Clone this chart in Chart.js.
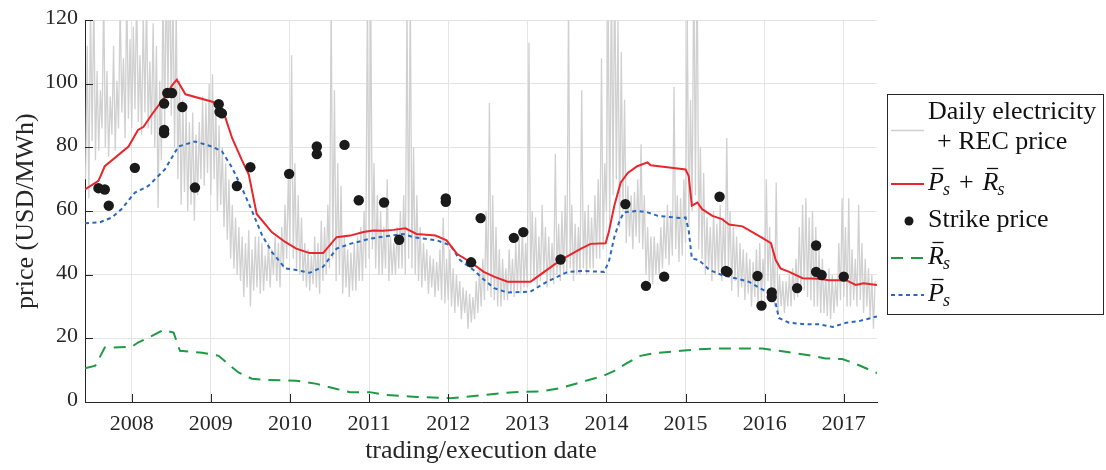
<!DOCTYPE html>
<html>
<head>
<meta charset="utf-8">
<title>Electricity + REC price and strike prices</title>
<script src="https://cdn.jsdelivr.net/npm/chart.js@4.4.1/dist/chart.umd.min.js"></script>
<style>
  html, body { margin: 0; padding: 0; background: #ffffff; }
  #wrap { width: 1106px; height: 470px; }
</style>
</head>
<body>
<div id="wrap"><canvas id="chart" width="1106" height="470"></canvas></div>
<script>
// ---- data ---------------------------------------------------------------

// Year ticks along the trading/execution date axis
const yearTicks = [2008, 2009, 2010, 2011, 2012, 2013, 2014, 2015, 2016, 2017];

// Electricity + REC price (USD/MWh), four readings per month from June 2007 to May 2017
const priceStartYear = 2007.417;
const pricesPerYear = 48;
const elecRecPrice = [
  // 2007 Jun-Dec
  70, 112, 64, 125,   82, 130, 76, 104,   79, 98, 86, 128,   80, 104, 77, 96,
  84, 112, 79, 101,   86, 126, 91, 108,   83, 130, 89, 114,
  // 2008
  86, 118, 92, 130,   88, 109, 84, 122,   91, 127, 86, 107,   84, 119, 80, 112,
  61, 101, 76, 132,   86, 136, 96, 140,   90, 131, 80, 124,   70, 101, 62, 95,
  66, 92, 60, 88,     62, 91, 57, 84,     65, 88, 70, 96,     68, 94, 72, 100,
  // 2009
  65, 103, 70, 94,    60, 87, 62, 80,     55, 75, 51, 70,     45, 62, 42, 58,
  40, 55, 38, 52,     33, 50, 36, 54,     30, 48, 35, 52,     36, 52, 34, 50,
  35, 46, 38, 50,     36, 48, 40, 52,     38, 50, 36, 55,     42, 62, 45, 70,
  // 2010
  50, 109, 45, 75,    42, 65, 40, 58,     38, 50, 36, 48,     35, 46, 37, 52,
  36, 50, 34, 57,     38, 55, 40, 62,     42, 125, 45, 98,    38, 75, 40, 68,
  34, 52, 36, 48,     33, 47, 35, 50,     35, 52, 38, 55,     38, 60, 42, 130,
  // 2011
  45, 128, 48, 75,    42, 65, 40, 60,     40, 55, 42, 70,     38, 52, 40, 50,
  40, 55, 42, 60,     42, 65, 40, 125,    45, 130, 42, 80,    40, 65, 38, 55,
  36, 50, 38, 48,     34, 46, 36, 45,     33, 44, 35, 48,     32, 58, 31, 45,
  // 2012
  32, 48, 30, 42,     28, 40, 30, 38,     26, 36, 28, 35,     23, 34, 25, 33,
  26, 38, 28, 42,     30, 45, 32, 60,     35, 94, 33, 65,     32, 55, 30, 48,
  30, 45, 32, 42,     32, 48, 34, 45,     33, 50, 35, 52,     34, 55, 36, 50,
  // 2013
  36, 113, 38, 60,    38, 58, 36, 52,     38, 62, 40, 55,     36, 52, 38, 50,
  37, 78, 40, 56,     38, 60, 40, 65,     40, 125, 42, 62,    38, 56, 40, 55,
  40, 98, 42, 60,     40, 62, 42, 58,     42, 65, 45, 70,     45, 108, 48, 75,
  // 2014
  60, 130, 55, 135,   65, 140, 70, 120,   55, 110, 60, 95,    50, 68, 52, 65,
  48, 66, 52, 70,     50, 81, 48, 65,     40, 55, 38, 52,     37, 52, 40, 50,
  40, 55, 42, 58,     45, 62, 43, 60,     46, 99, 48, 65,     44, 64, 46, 70,
  // 2015
  50, 125, 55, 95,    60, 140, 65, 145,   48, 80, 45, 72,     40, 58, 42, 55,
  38, 60, 40, 56,     40, 62, 38, 58,     40, 83, 42, 60,     35, 55, 38, 52,
  33, 50, 36, 48,     32, 47, 34, 45,     30, 44, 33, 48,     30, 50, 32, 45,
  // 2016
  35, 70, 38, 55,     32, 48, 30, 69,     28, 40, 30, 38,     28, 38, 30, 40,
  30, 42, 32, 45,     33, 55, 35, 62,     35, 64, 33, 58,     32, 60, 30, 55,
  30, 48, 28, 45,     28, 40, 27, 42,     26, 40, 28, 38,     30, 50, 32, 64,
  // 2017 Jan-May
  33, 55, 30, 64,     30, 48, 32, 45,     30, 62, 32, 50,     28, 45, 30, 42,
  26, 40, 23, 38
];

// Mean electricity + REC price, P̄s + R̄s
const sumYears = [2007.41, 2007.58, 2007.66, 2007.96, 2008.08, 2008.15, 2008.25, 2008.42, 2008.51, 2008.57,
  2008.68, 2009.03, 2009.16, 2009.27, 2009.39, 2009.48, 2009.58, 2009.77, 2009.94, 2010.08,
  2010.25, 2010.42, 2010.59, 2010.76, 2010.93, 2011.05, 2011.18, 2011.31, 2011.46, 2011.60,
  2011.84, 2011.98, 2012.11, 2012.28, 2012.45, 2012.58, 2012.75, 2013.04, 2013.13, 2013.42,
  2013.68, 2013.80, 2013.99, 2014.03, 2014.10, 2014.18, 2014.27, 2014.39, 2014.52, 2014.56,
  2014.77, 2015.00, 2015.04, 2015.08, 2015.15, 2015.21, 2015.34, 2015.46, 2015.55, 2015.72,
  2015.97, 2016.08, 2016.14, 2016.20, 2016.31, 2016.48, 2016.69, 2016.81, 2017.03, 2017.15,
  2017.25, 2017.42];
const sumValues = [66.8, 69.5, 74.1, 80.3, 85.5, 86.5, 90.2, 95.9, 99.5, 101.3,
  96.7, 94.3, 91.2, 82.9, 76.2, 71.5, 59.1, 53.4, 50.3, 48.2,
  46.8, 46.8, 51.8, 52.3, 53.4, 53.9, 53.8, 54.1, 54.6, 52.8,
  52.3, 50.8, 46.6, 44.0, 40.9, 39.4, 37.8, 37.8, 39.4, 44.6,
  48.2, 49.7, 49.9, 53.4, 61.7, 68.9, 72.0, 74.1, 75.3, 74.4,
  73.8, 73.1, 71.0, 61.7, 62.7, 60.6, 58.5, 57.5, 55.8, 55.2,
  51.6, 49.9, 44.6, 42.0, 40.9, 38.9, 38.7, 38.3, 38.3, 36.8,
  37.3, 36.8];

// Strike prices of executed contracts
const strikeYears = [2007.58, 2007.66, 2007.71, 2008.04, 2008.41, 2008.41, 2008.41, 2008.45, 2008.51, 2008.64,
  2008.80, 2009.10, 2009.11, 2009.14, 2009.33, 2009.50, 2009.99, 2010.34, 2010.34, 2010.69,
  2010.87, 2011.19, 2011.38, 2011.97, 2011.97, 2012.29, 2012.41, 2012.83, 2012.95, 2013.42,
  2014.24, 2014.50, 2014.73, 2015.43, 2015.51, 2015.53, 2015.91, 2015.96, 2016.09, 2016.09,
  2016.41, 2016.65, 2016.65, 2016.72, 2017.00];
const strikeValues = [67.2, 66.8, 61.7, 73.6, 93.8, 85.5, 84.5, 97.1, 97.1, 92.7,
  67.4, 93.6, 91.2, 90.7, 67.9, 73.8, 71.7, 80.3, 77.9, 80.8,
  63.4, 62.7, 51.0, 64.0, 62.9, 43.9, 57.8, 51.6, 53.4, 44.8,
  62.2, 36.5, 39.4, 64.5, 41.2, 40.9, 39.6, 30.3, 34.4, 33.0,
  35.8, 49.2, 40.9, 39.9, 39.4];

// Mean REC price, R̄s
const recYears = [2007.41, 2007.54, 2007.66, 2008.00, 2008.08, 2008.25, 2008.40, 2008.53, 2008.61, 2008.89,
  2009.10, 2009.22, 2009.35, 2009.52, 2009.69, 2009.94, 2010.08, 2010.34, 2010.59, 2010.76,
  2011.01, 2011.18, 2011.60, 2012.03, 2012.41, 2012.83, 2013.17, 2013.42, 2013.68, 2013.97,
  2014.10, 2014.27, 2014.43, 2014.60, 2014.94, 2015.17, 2015.42, 2015.97, 2016.18, 2016.60,
  2016.77, 2016.98, 2017.11, 2017.28, 2017.42];
const recValues = [10.6, 11.4, 17.1, 17.3, 18.7, 20.7, 22.6, 21.8, 16.1, 15.5,
  14.5, 11.9, 9.3, 7.3, 6.9, 6.8, 6.7, 5.7, 4.1, 3.1,
  3.1, 2.3, 1.6, 1.2, 2.1, 3.1, 3.3, 4.4, 6.2, 8.3,
  9.8, 12.4, 14.5, 15.3, 16.1, 16.6, 16.8, 16.8, 16.1, 14.5,
  13.7, 13.5, 12.4, 10.6, 9.1];

// Mean electricity price, P̄s
const elecYears = [2007.41, 2007.60, 2007.75, 2007.87, 2008.04, 2008.21, 2008.42, 2008.59, 2008.80, 2009.01,
  2009.14, 2009.27, 2009.39, 2009.52, 2009.65, 2009.77, 2009.94, 2010.08, 2010.25, 2010.42,
  2010.59, 2010.76, 2011.01, 2011.18, 2011.43, 2011.56, 2011.86, 2012.03, 2012.15, 2012.32,
  2012.45, 2012.58, 2012.75, 2013.04, 2013.25, 2013.51, 2013.68, 2013.97, 2014.03, 2014.10,
  2014.16, 2014.22, 2014.39, 2014.52, 2014.65, 2014.94, 2015.00, 2015.04, 2015.08, 2015.17,
  2015.30, 2015.46, 2015.63, 2015.80, 2015.97, 2016.12, 2016.18, 2016.31, 2016.52, 2016.69,
  2016.86, 2017.03, 2017.19, 2017.42];
const elecValues = [56.2, 56.5, 58.0, 60.6, 65.8, 67.9, 73.1, 80.3, 81.9, 80.3,
  78.8, 73.6, 67.4, 60.1, 52.3, 47.2, 42.0, 41.5, 40.6, 42.5,
  48.2, 49.7, 51.3, 52.0, 52.8, 51.8, 50.8, 49.2, 44.6, 41.5,
  38.5, 35.8, 34.4, 34.7, 37.8, 40.9, 41.2, 40.9, 44.0, 51.8,
  56.5, 59.6, 60.1, 59.6, 58.5, 57.8, 58.0, 54.0, 45.1, 44.6,
  41.5, 39.9, 38.9, 37.8, 35.4, 33.2, 26.4, 24.9, 24.4, 24.4,
  23.6, 24.9, 25.4, 26.9];

// ---- styling ------------------------------------------------------------

const AXIS_COLOR = '#262626';
const GRID_COLOR = '#e4e4e4';
const SERIF = '"Liberation Serif", "Times New Roman", serif';

const pairs = (xs, ys) => xs.map((x, i) => ({ x: x, y: ys[i] }));
const pricePoints = elecRecPrice.map((v, i) => ({ x: priceStartYear + i / pricesPerYear, y: v }));

// Inward tick marks on the left and bottom axes
const inwardTicks = {
  id: 'inwardTicks',
  afterDatasetsDraw(chart) {
    const { ctx, chartArea: a, scales: { x, y } } = chart;
    ctx.save();
    ctx.strokeStyle = AXIS_COLOR;
    ctx.lineWidth = 1;
    ctx.beginPath();
    x.ticks.forEach(t => {
      const px = Math.round(x.getPixelForValue(t.value)) + 0.5;
      ctx.moveTo(px, a.bottom);
      ctx.lineTo(px, a.bottom - 8);
    });
    y.ticks.forEach(t => {
      const py = Math.round(y.getPixelForValue(t.value)) + 0.5;
      ctx.moveTo(a.left, py);
      ctx.lineTo(a.left + 8, py);
    });
    ctx.stroke();
    ctx.restore();
  }
};

// Draws an italic letter with a bar accent and an italic subscript; returns the end x
function barredSymbol(ctx, letter, x, baseline) {
  ctx.font = 'italic 26px ' + SERIF;
  ctx.fillText(letter, x, baseline);
  const w = ctx.measureText(letter).width;
  ctx.beginPath();
  ctx.moveTo(x + w * 0.28, baseline - 21.5);
  ctx.lineTo(x + w * 0.98, baseline - 21.5);
  ctx.lineWidth = 1.3;
  ctx.stroke();
  ctx.font = 'italic 18px ' + SERIF;
  ctx.fillText('s', x + w - 1, baseline + 5);
  return x + w - 1 + ctx.measureText('s').width;
}

// Legend with line samples and math labels, right of the plot
const mathLegend = {
  id: 'mathLegend',
  afterDraw(chart) {
    const ctx = chart.ctx;
    const ds = chart.data.datasets;
    const box = { l: 887.5, t: 94.5, r: 1103.5, b: 314.5 };
    const sx0 = 891, sx1 = 924, tx = 928;
    ctx.save();
    ctx.fillStyle = '#ffffff';
    ctx.fillRect(box.l, box.t, box.r - box.l, box.b - box.t);
    ctx.strokeStyle = AXIS_COLOR;
    ctx.lineWidth = 1;
    ctx.strokeRect(box.l, box.t, box.r - box.l, box.b - box.t);

    const sample = (d, y) => {
      ctx.save();
      ctx.strokeStyle = d.borderColor;
      ctx.lineWidth = d.borderWidth;
      ctx.setLineDash(d.borderDash || []);
      ctx.beginPath();
      ctx.moveTo(sx0, y);
      ctx.lineTo(sx1, y);
      ctx.stroke();
      ctx.restore();
    };

    ctx.fillStyle = '#111111';
    ctx.strokeStyle = '#111111';
    ctx.textBaseline = 'alphabetic';
    ctx.textAlign = 'left';

    // daily price
    sample(ds[4], 130.5);
    ctx.font = '26px ' + SERIF;
    ctx.fillStyle = '#111111';
    ctx.fillText('Daily electricity', tx, 119);
    ctx.fillText('+ REC price', tx + 9, 149);

    // P̄s + R̄s
    sample(ds[1], 184);
    ctx.fillStyle = '#111111';
    ctx.strokeStyle = '#111111';
    let xe = barredSymbol(ctx, 'P', tx, 190);
    ctx.font = '26px ' + SERIF;
    ctx.fillText('+', xe + 9, 190);
    barredSymbol(ctx, 'R', xe + 9 + ctx.measureText('+').width + 9, 190);

    // strike price
    ctx.beginPath();
    ctx.arc(909, 221, 4.5, 0, Math.PI * 2);
    ctx.fillStyle = ds[0].backgroundColor;
    ctx.fill();
    ctx.fillStyle = '#111111';
    ctx.font = '26px ' + SERIF;
    ctx.fillText('Strike price', tx, 227);

    // R̄s
    sample(ds[2], 258);
    ctx.fillStyle = '#111111';
    ctx.strokeStyle = '#111111';
    barredSymbol(ctx, 'R', tx, 264);

    // P̄s
    sample(ds[3], 295);
    ctx.fillStyle = '#111111';
    ctx.strokeStyle = '#111111';
    barredSymbol(ctx, 'P', tx, 301);
    ctx.restore();
  }
};

const tickFont = { family: SERIF, size: 22 };
const titleFont = { family: SERIF, size: 26 };

new Chart(document.getElementById('chart'), {
  type: 'scatter',
  data: {
    datasets: [
      {
        label: 'Strike price',
        data: pairs(strikeYears, strikeValues),
        showLine: false,
        pointRadius: 5.2,
        pointHoverRadius: 5.2,
        pointBorderWidth: 0,
        backgroundColor: '#1a1a1a',
        borderColor: '#1a1a1a',
        order: 1
      },
      {
        label: 'P̄s + R̄s',
        data: pairs(sumYears, sumValues),
        showLine: true,
        borderColor: '#e8262c',
        borderWidth: 2,
        pointRadius: 0,
        tension: 0,
        order: 2
      },
      {
        label: 'R̄s',
        data: pairs(recYears, recValues),
        showLine: true,
        borderColor: '#1e9a45',
        borderWidth: 2,
        borderDash: [12, 8],
        pointRadius: 0,
        tension: 0,
        order: 3
      },
      {
        label: 'P̄s',
        data: pairs(elecYears, elecValues),
        showLine: true,
        borderColor: '#2a68c0',
        borderWidth: 2,
        borderDash: [4, 3.5],
        pointRadius: 0,
        tension: 0,
        order: 3
      },
      {
        label: 'Daily electricity + REC price',
        data: pricePoints,
        showLine: true,
        borderColor: '#d0d0d0',
        borderWidth: 1.3,
        pointRadius: 0,
        tension: 0,
        order: 9
      }
    ]
  },
  options: {
    responsive: false,
    animation: false,
    devicePixelRatio: 1,
    events: [],
    layout: { padding: { left: 0, top: 16, right: 229, bottom: 0 } },
    plugins: {
      legend: { display: false },
      tooltip: { enabled: false }
    },
    scales: {
      x: {
        type: 'linear',
        min: 2007.41,
        max: 2017.42,
        afterBuildTicks: scale => { scale.ticks = yearTicks.map(v => ({ value: v })); },
        afterFit: scale => { scale.height = 68; },
        ticks: {
          autoSkip: false,
          maxRotation: 0,
          padding: 9,
          color: AXIS_COLOR,
          font: tickFont,
          callback: v => String(v)
        },
        grid: { color: GRID_COLOR, drawTicks: false },
        border: { display: true, color: AXIS_COLOR, width: 1 },
        title: {
          display: true,
          text: 'trading/execution date',
          color: AXIS_COLOR,
          font: titleFont,
          padding: { top: 0, bottom: 3 }
        }
      },
      y: {
        min: 0,
        max: 120,
        afterFit: scale => { scale.width = 85; },
        ticks: {
          stepSize: 20,
          padding: 7,
          labelOffset: -2,
          color: AXIS_COLOR,
          font: tickFont
        },
        grid: { color: GRID_COLOR, drawTicks: false },
        border: { display: true, color: AXIS_COLOR, width: 1 },
        title: {
          display: true,
          text: 'price (USD/MWh)',
          color: AXIS_COLOR,
          font: titleFont,
          padding: { top: 11, bottom: 0 }
        }
      }
    }
  },
  plugins: [inwardTicks, mathLegend]
});
</script>
</body>
</html>
